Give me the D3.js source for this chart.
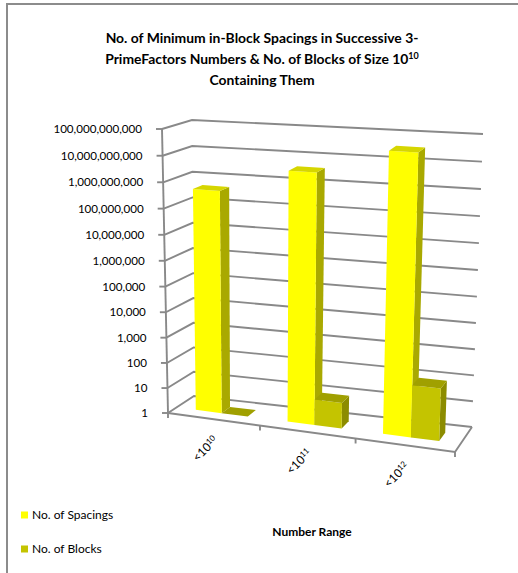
<!DOCTYPE html>
<html>
<head>
<meta charset="utf-8">
<script src="https://cdn.jsdelivr.net/npm/d3@7"></script>
<style>
  html, body { margin: 0; padding: 0; background: #fff; }
  svg { display: block; }
  text { font-family: Lato, "Open Sans", sans-serif; fill: #000; }
</style>
</head>
<body>
<script>
// ---- data ----
const categoryBase = ["<10", "<10", "<10"];
const categoryExp = ["10", "11", "12"];
const seriesNames = ["No. of Spacings", "No. of Blocks"];
const spacings = [470000000, 4200000000, 40000000000];
const blocks = [1, 10, 100];
const yTicks = [1, 10, 100, 1000, 10000, 100000, 1000000, 10000000,
                100000000, 1000000000, 10000000000, 100000000000];
const titleLines = ["No. of Minimum in-Block Spacings in Successive 3-",
                    "PrimeFactors Numbers & No. of Blocks of Size 10",
                    "Containing Them"];
const titleExp = "10";
const xAxisTitle = "Number Range";

const W = 518, H = 573;
const svg = d3.select("body").append("svg").attr("width", W).attr("height", H);

// chart frame
svg.append("rect").attr("x", 7).attr("y", 4).attr("width", 560).attr("height", 620)
  .attr("fill", "#fff").attr("stroke", "#8c8c8c").attr("stroke-width", 2);

// ---- 3D box: screen corners of the plot cube (u = category, t = value, d = depth) ----
const C = {
  flb: [168, 413], frb: [455, 452], blb: [194, 396], brb: [472, 427],
  flt: [162, 129], frt: [465, 150], blt: [192, 120], brt: [483, 134]
};
// mild perspective foreshortening along category and value directions
const warp = c => s => s / (c + (1 - c) * s);
const warpU = warp(1.06), warpT = warp(1.039);
const lerp = (a, b, s) => [a[0] + (b[0] - a[0]) * s, a[1] + (b[1] - a[1]) * s];
function proj(u, t, d) {
  const uu = warpU(u), tt = warpT(t);
  const fb = lerp(C.flb, C.frb, uu), bb = lerp(C.blb, C.brb, uu);
  const ft = lerp(C.flt, C.frt, uu), bt = lerp(C.blt, C.brt, uu);
  const bottom = lerp(fb, bb, d), top = lerp(ft, bt, d);
  return lerp(bottom, top, tt);
}

// ---- scales ----
const y = d3.scaleLog().domain([1, 1e11]).range([0, 1]);
const x = d3.scaleBand().domain(d3.range(categoryBase.length)).range([0, 1]);
const xs = d3.scaleBand().domain(d3.range(seriesNames.length))
  .range([0, x.bandwidth()]).paddingOuter(0.75);
const depth = [0.33, 0.67];

const gridColor = "#898989";
const line = d3.line();
const g = svg.append("g");

// gridlines on side wall and back wall
yTicks.forEach(v => {
  const t = y(v);
  g.append("path").attr("d", line([proj(0, t, 0), proj(0, t, 1), proj(1, t, 1)]))
    .attr("fill", "none").attr("stroke", gridColor).attr("stroke-width", 1.9);
});
// floor outline (front and right edges)
g.append("path").attr("d", line([proj(0, 0, 0), proj(1, 0, 0), proj(1, 0, 1)]))
  .attr("fill", "none").attr("stroke", gridColor).attr("stroke-width", 1.9);
// value axis line and ticks
g.append("path").attr("d", line([proj(0, 0, 0), proj(0, 1, 0)]))
  .attr("fill", "none").attr("stroke", gridColor).attr("stroke-width", 1.9);
const fmt = d3.format(",");
yTicks.forEach(v => {
  const p = proj(0, y(v), 0);
  g.append("line").attr("x1", p[0] - 6).attr("x2", p[0]).attr("y1", p[1]).attr("y2", p[1])
    .attr("stroke", gridColor).attr("stroke-width", 1.9);
  g.append("text").attr("x", p[0] - 20).attr("y", p[1]).attr("dy", "0.35em")
    .attr("text-anchor", "end").attr("font-size", 11.6).text(fmt(v));
});
// category ticks
d3.range(categoryBase.length + 1).forEach(i => {
  const p = proj(i / categoryBase.length, 0, 0);
  g.append("line").attr("x1", p[0]).attr("x2", p[0]).attr("y1", p[1]).attr("y2", p[1] + 5)
    .attr("stroke", gridColor).attr("stroke-width", 1.9);
});

// ---- bars ----
const palette = [
  { front: "#ffff00", side: "#a9a900", top: "#d6d600" },
  { front: "#c4c400", side: "#8c8c00", top: "#a0a000" }
];
const seriesValues = [spacings, blocks];
const poly = pts => "M" + pts.map(p => p.join(",")).join("L") + "Z";
categoryBase.forEach((_, i) => {
  seriesValues.forEach((vals, s) => {
    const u0 = x(i) + xs(s), u1 = u0 + xs.bandwidth();
    const t1 = y(vals[i]);
    const [d0, d1] = depth;
    const col = palette[s];
    const bar = g.append("g");
    // right side face
    bar.append("path").attr("d", poly([proj(u1, 0, d0), proj(u1, 0, d1), proj(u1, t1, d1), proj(u1, t1, d0)]))
      .attr("fill", col.side);
    // front face
    bar.append("path").attr("d", poly([proj(u0, 0, d0), proj(u1, 0, d0), proj(u1, t1, d0), proj(u0, t1, d0)]))
      .attr("fill", col.front);
    // top face
    bar.append("path").attr("d", poly([proj(u0, t1, d0), proj(u1, t1, d0), proj(u1, t1, d1), proj(u0, t1, d1)]))
      .attr("fill", col.top);
  });
});

// ---- category labels ----
categoryBase.forEach((b, i) => {
  const p = proj(x(i) + x.bandwidth() / 2, 0, 0);
  const t = g.append("text").attr("font-size", 11.8)
    .attr("text-anchor", "end")
    .attr("transform", `translate(${p[0] + 5},${p[1] + 22}) rotate(-45)`);
  t.append("tspan").text(b);
  t.append("tspan").attr("font-size", 8).attr("dy", -4).text(categoryExp[i]);
});

// ---- titles ----
const title = svg.append("text").attr("text-anchor", "middle")
  .attr("font-size", 13.9).attr("font-weight", "bold");
titleLines.forEach((l, i) => {
  title.append("tspan").attr("x", 262).attr("y", 43 + i * 21).text(l);
  if (i === 1) {
    title.append("tspan").attr("font-size", 9).attr("dy", -5).text(titleExp);
  }
});
svg.append("text").attr("x", 312).attr("y", 536).attr("text-anchor", "middle")
  .attr("font-size", 12).attr("font-weight", "bold").text(xAxisTitle);

// ---- legend ----
seriesNames.forEach((n, s) => {
  const ly = 515 + s * 34;
  svg.append("rect").attr("x", 21).attr("y", ly - 3.5).attr("width", 7).attr("height", 7)
    .attr("fill", palette[s].front);
  svg.append("text").attr("x", 32).attr("y", ly).attr("dy", "0.35em")
    .attr("font-size", 12).text(n);
});
</script>
</body>
</html>
